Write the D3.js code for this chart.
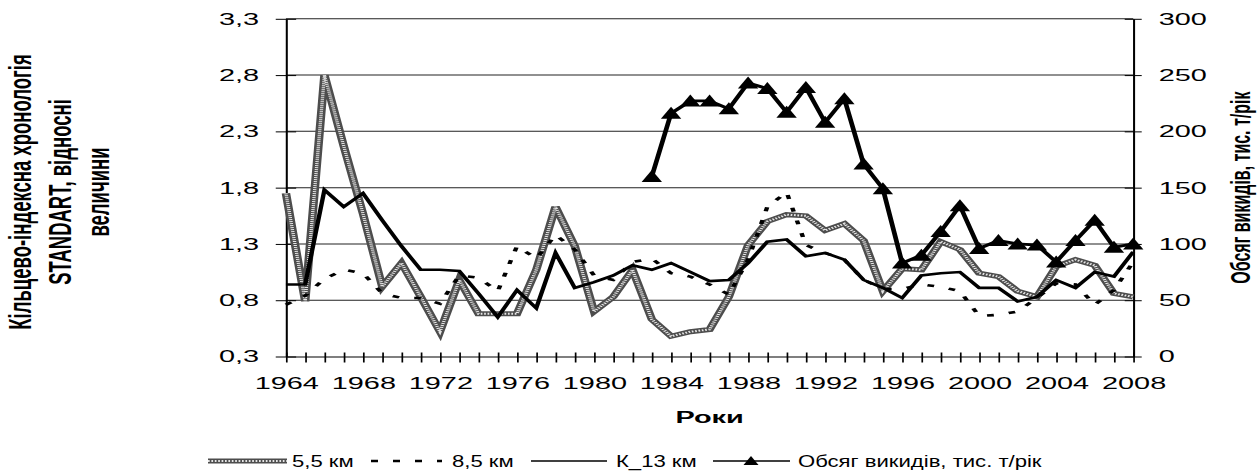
<!DOCTYPE html>
<html><head><meta charset="utf-8">
<script src="https://cdn.jsdelivr.net/npm/d3@7/dist/d3.min.js"></script>
<style>body{margin:0;background:#fff} svg{display:block}</style>
</head><body>
<svg id="c" width="1258" height="472"></svg>
<script>
const years = [1964,1965,1966,1967,1968,1969,1970,1971,1972,1973,1974,1975,1976,1977,1978,1979,1980,1981,1982,1983,1984,1985,1986,1987,1988,1989,1990,1991,1992,1993,1994,1995,1996,1997,1998,1999,2000,2001,2002,2003,2004,2005,2006,2007,2008];
const km55 = [1.75,0.79,2.80,2.17,1.57,0.92,1.13,0.83,0.52,0.98, 0.68,0.68,0.68,1.07,1.63,1.28,0.70,0.83,1.07,0.63, 0.48,0.52,0.54,0.83,1.29,1.50,1.56,1.55,1.42,1.48, 1.33,0.88,1.08,1.07,1.32,1.25,1.04,1.01,0.88,0.83, 1.10,1.16,1.11,0.86,0.83];
const km85 = [0.76,0.84,0.99,1.07,1.04,0.86,0.82,0.82,0.77,1.02, 1.00,0.88,1.28,1.17,1.38,1.25,1.02,0.98,1.14,1.17, 1.04,1.01,0.94,0.85,1.16,1.63,1.76,1.29,1.22,1.16, 0.98,0.90,0.90,0.94,0.92,0.88,0.66,0.67,0.70,0.82, 0.95,0.94,0.76,0.89,1.14];
const k13 = [0.94,0.94,1.78,1.63,1.75,1.51,1.28,1.07,1.07,1.06, 0.86,0.65,0.89,0.73,1.22,0.91,0.96,1.02,1.11,1.07, 1.13,1.05,0.97,0.98,1.13,1.32,1.34,1.19,1.22,1.16, 0.98,0.91,0.82,1.02,1.04,1.05,0.91,0.91,0.79,0.83, 0.98,0.91,1.05,1.01,1.23];
const emisYears = [1983,1984,1985,1986,1987,1988,1989,1990,1991,1992,1993,1994,1995,1996,1997,1998,1999,2000,2001,2002,2003,2004,2005,2006,2007,2008];
const emis = [160,216,227,227,220,243,238,217,239,208, 229,171,149,83,90,111,134,96,103,100, 99,84,103,121,97,100];
const leftTicks = [0.3,0.8,1.3,1.8,2.3,2.8,3.3];
const rightTicks = [0,50,100,150,200,250,300];
const xLabelYears = [1964,1968,1972,1976,1980,1984,1988,1992,1996,2000,2004,2008];
const seriesNames = ["5,5 км","8,5 км","К_13 км","Обсяг викидів, тис. т/рік"];
const leftTitle = ["Кільцево-індексна хронологія","STANDART, відносні","величини"];
const rightTitle = "Обсяг викидів, тис. т/рік";
const xTitle = "Роки";

const SX = 1.7;
const FONT = "'Liberation Sans', Arial, sans-serif";
const svg = d3.select("#c").style("font-family", FONT);
const g = svg.append("g").attr("transform", `scale(${SX},1)`);

const x = d3.scaleLinear().domain([1964, 2008]).range([168.2, 666.6]);
const yL = d3.scaleLinear().domain([0.3, 3.3]).range([356.5, 18.8]);
const yR = d3.scaleLinear().domain([0, 300]).range([356.5, 18.8]);
const fmt = d => d3.format(".1f")(d).replace(".", ",");

// gridlines
g.append("g").selectAll("line").data(leftTicks.slice(1)).join("line")
  .attr("x1", x(1964)).attr("x2", x(2008))
  .attr("y1", d => yL(d)).attr("y2", d => yL(d))
  .attr("stroke", "#222").attr("stroke-width", 1);

const axL = g.append("g").attr("transform", `translate(${x(1964)},0)`)
  .call(d3.axisLeft(yL).tickValues(leftTicks).tickFormat(fmt).tickSize(6).tickSizeOuter(0).tickPadding(9.8));
const axR = g.append("g").attr("transform", `translate(${x(2008)},0)`)
  .call(d3.axisRight(yR).tickValues(rightTicks).tickFormat(d3.format("d")).tickSize(5).tickSizeOuter(0).tickPadding(10));
const axB = g.append("g").attr("transform", `translate(0,${yL(0.3)})`)
  .call(d3.axisBottom(x).tickValues(years).tickFormat(d => xLabelYears.includes(d) ? String(d) : "")
    .tickSize(6).tickSizeOuter(0).tickPadding(14.8));
axL.selectAll(".tick line").attr("x1", 6);
axR.selectAll(".tick line").attr("x1", -5);
axB.selectAll(".tick line").attr("y1", -4);
[axL, axR, axB].forEach(a => {
  a.selectAll("path.domain").attr("stroke", "#000").attr("stroke-width", 1.2);
  a.selectAll(".tick line").attr("stroke", "#000").attr("stroke-width", 1);
  a.selectAll("text").attr("font-size", 17).attr("fill", "#000").style("font-family", FONT);
});

const line = d3.line().x((d, i) => x(years[i])).y(d => yL(d));

// 5,5 km textured
g.append("path").attr("d", line(km55)).attr("fill", "none")
  .attr("stroke", "#4d4d4d").attr("stroke-width", 5);
g.append("path").attr("d", line(km55)).attr("fill", "none")
  .attr("stroke", "#e6e6e6").attr("stroke-width", 2).attr("stroke-dasharray", "1,1");
// 8,5 km dashed
g.append("path").attr("d", line(km85)).attr("fill", "none")
  .attr("stroke", "#000").attr("stroke-width", 2.6).attr("stroke-dasharray", "4,9");
// K_13 solid
g.append("path").attr("d", line(k13)).attr("fill", "none")
  .attr("stroke", "#000").attr("stroke-width", 2.6);
// emissions
const lineE = d3.line().x((d, i) => x(emisYears[i])).y(d => yR(d));
g.append("path").attr("d", lineE(emis)).attr("fill", "none")
  .attr("stroke", "#000").attr("stroke-width", 2.8);
const tri = "M0,-6.5L6,5.5L-6,5.5Z";
g.append("g").selectAll("path").data(emis).join("path")
  .attr("transform", (d, i) => `translate(${x(emisYears[i])},${yR(d)})`)
  .attr("d", tri).attr("fill", "#000");

// titles
const lt = g.append("g").attr("font-weight", "bold").attr("font-size", 18.5).attr("text-anchor", "middle");
const ltx = [11.8, 35, 57.6];
leftTitle.forEach((t, i) => {
  lt.append("text").attr("transform", `translate(${ltx[i]},192) rotate(-90)`).attr("dy", "0.35em").text(t);
});
g.append("text").attr("transform", `translate(729.4,187.6) rotate(-90)`).attr("dy", "0.35em")
  .attr("text-anchor", "middle").attr("font-weight", "bold").attr("font-size", 16).text(rightTitle);
g.append("text").attr("x", 417.4).attr("y", 423).attr("text-anchor", "middle")
  .attr("font-weight", "bold").attr("font-size", 17).text(xTitle);

// legend (drawn in pixel space)
const ly = 461, lb = 467.3, TS = 1.3;
const leg = svg.append("g");
const s1 = [[208, ly], [287, ly]];
leg.append("path").attr("d", d3.line()(s1)).attr("stroke", "#4d4d4d").attr("stroke-width", 5).attr("fill", "none");
leg.append("path").attr("d", d3.line()(s1)).attr("stroke", "#e6e6e6").attr("stroke-width", 2).attr("stroke-dasharray", "1.7,1.7").attr("fill", "none");
leg.append("path").attr("d", d3.line()([[371, ly], [442, ly]])).attr("stroke", "#000").attr("stroke-width", 2.6).attr("stroke-dasharray", "7,15").attr("fill", "none");
leg.append("path").attr("d", d3.line()([[531, ly], [607, ly]])).attr("stroke", "#000").attr("stroke-width", 1.3).attr("fill", "none");
leg.append("path").attr("d", d3.line()([[713, ly], [790, ly]])).attr("stroke", "#000").attr("stroke-width", 1.3).attr("fill", "none");
leg.append("path").attr("transform", `translate(751,${ly})`).attr("d", "M0,-5L7.5,4L-7.5,4Z").attr("fill", "#000");
const lx = [292, 452, 616, 798];
seriesNames.forEach((t, i) => {
  leg.append("text").attr("transform", `translate(${lx[i]},${lb}) scale(${TS},1)`).attr("font-size", 17).text(t);
});
</script>
</body></html>
